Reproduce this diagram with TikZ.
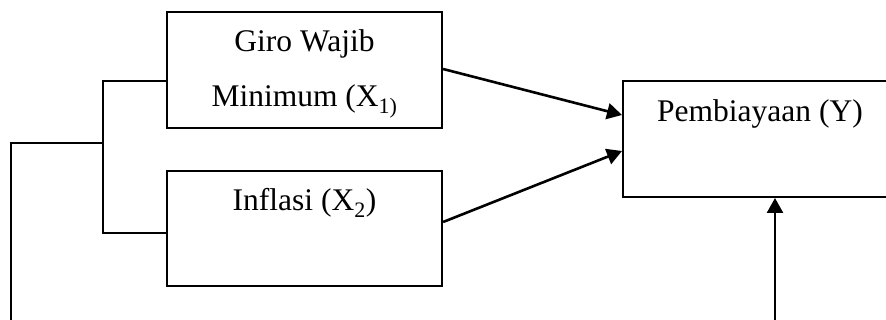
\documentclass[tikz,border=0pt]{standalone}
\usepackage{fontspec}
\setmainfont{Liberation Serif}
\usetikzlibrary{arrows.meta}
\begin{document}
\begin{tikzpicture}[x=1pt,y=-1pt,
  box/.style={draw, line width=2.2pt, inner sep=0pt},
  lbl/.style={font=\fontsize{31.5}{38}\selectfont, anchor=base, inner sep=0pt},
  conn/.style={line width=2pt},
  arr/.style={line width=2.6pt, -{Triangle[length=15pt,width=16pt]}}]
\clip (0,0) rectangle (886,320);
\node[box, minimum width=275pt, minimum height=116pt] (x1) at (304.5,70) {};
\node[box, minimum width=275pt, minimum height=115pt] (x2) at (304.5,228.5) {};
\node[box, line width=2pt, minimum width=274pt, minimum height=116pt] (y) at (760,139) {};
\node[lbl] (t1) at (304.5,52) {Giro Wajib};
\node[lbl] (t2) at (304.5,107) {Minimum (X\textsubscript{1)}};
\node[lbl] (t3) at (304.5,211) {Inflasi (X\textsubscript{2})};
\node[lbl] (t4) at (760,122) {Pembiayaan (Y)};
\coordinate (j) at (103,143);
\coordinate (L) at (11,325);
\coordinate (m) at (775,325);
\draw[conn] ([yshift=-11pt]x1.west) -| (j) |- ([yshift=-4.5pt]x2.west);
\draw[conn] (j) -| (L);
\draw[arr] (m) -- (m |- y.south);
\draw[arr] ([yshift=1pt]x1.east) -- ([yshift=24pt]y.west);
\draw[arr] ([yshift=6.5pt]x2.east) -- ([yshift=-12pt]y.west);
\end{tikzpicture}
\end{document}
